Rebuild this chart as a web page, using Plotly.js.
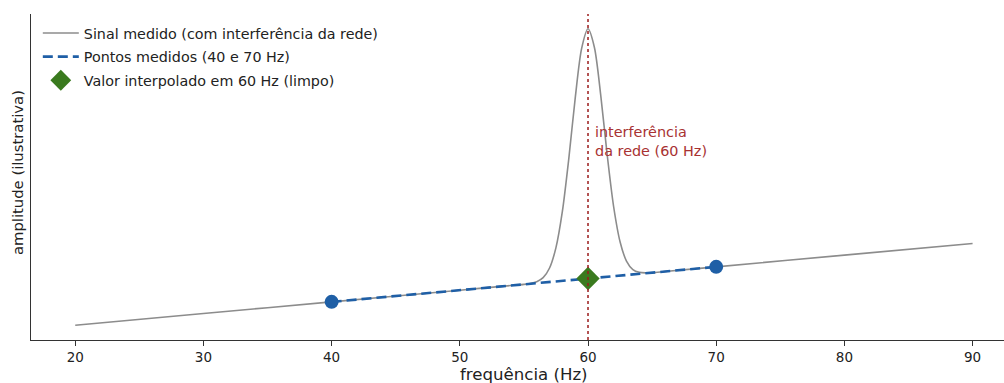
<!DOCTYPE html>
<html><head><meta charset="utf-8">
<script src="https://cdn.plot.ly/plotly-3.0.1.min.js"></script>
<style>body{margin:0;background:#fff}#c{width:1004px;height:383px}</style>
</head><body><div id="c"></div>
<script>
const freqSignal = [20, 30, 40, 50, 54, 55, 55.5, 56, 56.5, 57, 57.5, 58, 58.5, 59, 59.5, 60,
  60.5, 61, 61.5, 62, 62.5, 63, 63.5, 64, 64.5, 65, 66, 70, 80, 90];
const ampSignal = [1.0, 1.1, 1.2, 1.3, 1.34, 1.35, 1.358, 1.373, 1.407, 1.49, 1.665, 1.975, 2.426, 2.944, 3.37, 3.54,
  3.38, 2.964, 2.456, 2.015, 1.715, 1.55, 1.477, 1.453, 1.448, 1.45, 1.46, 1.5, 1.6, 1.7];
// Measured points
const freqMeasured = [40, 70];
const ampMeasured = [1.2, 1.5];
// Interpolated value
const freqInterp = [60];
const ampInterp = [1.4];
const xTicks = [20, 30, 40, 50, 60, 70, 80, 90];

const FONT = 'DejaVu Sans, sans-serif';
const traces = [
  {x: freqSignal, y: ampSignal, mode: 'lines', name: 'Sinal medido (com interferência da rede)', legendgroup: 'a',
   line: {color: '#8c8c8c', width: 1.6, shape: 'spline', smoothing: 0.8}},
  {x: freqMeasured, y: ampMeasured, mode: 'lines', name: 'Pontos medidos (40 e 70 Hz)', legendgroup: 'b',
   line: {color: '#1f5fa6', width: 2.6, dash: '10px,5px'}},
  {x: freqMeasured, y: ampMeasured, mode: 'markers', showlegend: false, legendgroup: 'b',
   marker: {color: '#1f5fa6', size: 14, symbol: 'circle'}},
  {x: freqInterp, y: ampInterp, mode: 'markers', name: 'Valor interpolado em 60 Hz (limpo)', legendgroup: 'c',
   marker: {color: '#3a7a1e', size: 18, symbol: 'diamond'}}
];
const layout = {
  width: 1004, height: 383,
  margin: {l: 31, r: 0, t: 14, b: 43},
  paper_bgcolor: '#fff', plot_bgcolor: '#fff',
  font: {family: FONT, size: 14, color: '#222'},
  showlegend: true,
  legend: {x: 0.007, y: 0.99, xanchor: 'left', yanchor: 'top', bgcolor: 'rgba(0,0,0,0)',
           font: {family: FONT, size: 14.3, color: '#222'}, tracegroupgap: 2, itemwidth: 36},
  xaxis: {range: [16.55, 92.45], tickvals: xTicks, ticktext: xTicks.map(String),
          showgrid: false, zeroline: false, showline: true, linecolor: '#333', linewidth: 1.2,
          ticks: 'outside', ticklen: 5, tickcolor: '#333', tickwidth: 1,
          tickfont: {family: FONT, size: 13.5, color: '#222'}},
  yaxis: {range: [0.873, 3.667], showgrid: false, zeroline: false, showline: true, linecolor: '#333', linewidth: 1.2,
          showticklabels: false, ticks: ''},
  shapes: [{type: 'line', xref: 'x', yref: 'paper', x0: 60, x1: 60, y0: 0, y1: 1,
            line: {color: '#9b1c1c', width: 1.5, dash: 'dot'}}],
  annotations: [
    {xref: 'x', yref: 'y', x: 60.4, y: 2.74, xanchor: 'left', yanchor: 'top', align: 'left',
     showarrow: false, text: 'interferência<br>da rede (60 Hz)',
     font: {family: FONT, size: 14.4, color: '#a83232'}},
    {xref: 'paper', yref: 'paper', x: 0.5067, y: -0.107, xanchor: 'center', yanchor: 'middle',
     showarrow: false, text: 'frequência (Hz)', font: {family: FONT, size: 16.6, color: '#222'}},
    {xref: 'paper', yref: 'paper', x: -0.0144, y: 0.515, xanchor: 'center', yanchor: 'middle', textangle: -90,
     showarrow: false, text: 'amplitude (ilustrativa)', font: {family: FONT, size: 14.8, color: '#222'}}
  ]
};
Plotly.newPlot('c', traces, layout, {displayModeBar: false, staticPlot: true});
</script></body></html>
